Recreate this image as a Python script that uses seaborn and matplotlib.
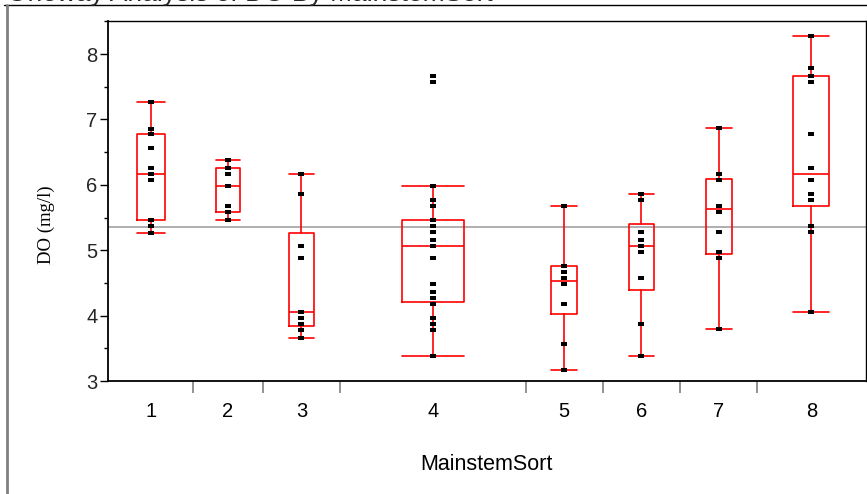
import numpy as np
import pandas as pd
import seaborn as sns
import matplotlib.pyplot as plt
from matplotlib.lines import Line2D

# DO (mg/l) readings per MainstemSort group
groups = ['1', '2', '3', '4', '5', '6', '7', '8']
do_1 = [7.27, 6.86, 6.78, 6.56, 6.25, 6.17, 6.07, 5.46, 5.46, 5.37, 5.27]
do_2 = [6.38, 6.25, 6.25, 6.16, 5.98, 5.67, 5.58, 5.58, 5.46]
do_3 = [6.17, 5.86, 5.07, 4.88, 4.06, 4.06, 3.96, 3.87, 3.78, 3.66]
do_4 = [7.67, 7.57, 5.98, 5.77, 5.68, 5.46, 5.46, 5.37, 5.28, 5.28, 5.16, 5.06,
        5.06, 4.88, 4.48, 4.36, 4.27, 4.27, 4.18, 4.18, 3.96, 3.87, 3.78, 3.38]
do_5 = [5.68, 4.76, 4.76, 4.67, 4.57, 4.48, 4.18, 4.18, 3.57, 3.17]
do_6 = [5.86, 5.77, 5.28, 5.16, 5.06, 5.06, 4.97, 4.57, 3.87, 3.38]
do_7 = [6.87, 6.17, 6.07, 6.07, 5.68, 5.58, 5.28, 4.97, 4.88, 3.79]
do_8 = [8.28, 7.79, 7.67, 7.67, 7.57, 6.78, 6.26, 6.07, 5.86, 5.77, 5.77, 5.37,
        5.28, 4.06]
series = [do_1, do_2, do_3, do_4, do_5, do_6, do_7, do_8]


def jmp_box_stats(vals):
    # JMP quantiles use the (n+1)p position, i.e. numpy's 'weibull' method
    v = np.sort(np.asarray(vals))
    q1, med, q3 = np.percentile(v, [25, 50, 75], method='weibull')
    iqr = q3 - q1
    lo = v[v >= q1 - 1.5 * iqr].min()
    hi = v[v <= q3 + 1.5 * iqr].max()
    return dict(med=med, q1=q1, q3=q3, whislo=lo, whishi=hi, fliers=[])


# x axis proportional to group size, like JMP
counts = np.array([len(s) for s in series])
edges = np.concatenate([[0], np.cumsum(counts)])
centers = (edges[:-1] + edges[1:]) / 2
box_w = counts / 3.0

df = pd.DataFrame({
    'MainstemSort': np.repeat(groups, counts),
    'pos': np.repeat(centers, counts),
    'DO': np.concatenate(series),
})
grand_mean = df['DO'].mean()

sns.set_theme(style='white')
plt.rcParams['font.family'] = ['Liberation Sans', 'DejaVu Sans']

fig = plt.figure(figsize=(8.67, 4.94), dpi=100)
ax = fig.add_axes([108.3 / 867, 1 - 381 / 494, 757.2 / 867, 359.7 / 494])

ax.axhline(grand_mean, color='#a8a8a8', lw=1.3, zorder=1)

red = '#ff0000'
ax.bxp([jmp_box_stats(s) for s in series], positions=centers, widths=box_w,
       capwidths=box_w, showfliers=False, manage_ticks=False,
       boxprops=dict(color=red, lw=1.2), whiskerprops=dict(color=red, lw=1.2),
       capprops=dict(color=red, lw=1.2), medianprops=dict(color=red, lw=1.2),
       zorder=2)

rect = [(-1, -0.6), (1, -0.6), (1, 0.6), (-1, 0.6)]
sns.stripplot(data=df, x='pos', y='DO', native_scale=True, orient='x',
              jitter=False, color='black', marker=rect, size=4.0,
              linewidth=0, zorder=4, ax=ax)

ax.set_xlim(edges[0], edges[-1])
ax.set_ylim(3, 8.5)

ax.set_xticks(centers)
ax.set_xticklabels(groups)
ax.set_xticks(edges[1:-1], minor=True)
ax.tick_params(axis='x', which='major', length=0, pad=15, labelsize=14.5,
               labelcolor='black')
ax.tick_params(axis='x', which='minor', length=8.6, width=1.2,
               color='#808080', direction='out', bottom=True)

ax.set_yticks(range(3, 9))
ax.set_yticks(np.arange(3.5, 8.6, 1.0), minor=True)
ax.tick_params(axis='y', which='major', length=5.8, width=1, pad=2,
               labelsize=14.5, color='black', direction='out', left=True)
ax.tick_params(axis='y', which='minor', length=2.9, width=1, color='black',
               direction='out', left=True)

for side in ['left', 'bottom', 'top', 'right']:
    ax.spines[side].set_visible(True)
    ax.spines[side].set_color('black')
    ax.spines[side].set_linewidth(1.0)
ax.spines['left'].set_linewidth(1.3)
ax.spines['bottom'].set_linewidth(1.3)

ax.set_xlabel('MainstemSort', fontsize=15.5, color='black')
ax.xaxis.set_label_coords(0.5, -0.2335)
ax.xaxis.label.set_va('center')

ax.set_ylabel('DO (mg/l)', fontsize=13.5, color='black',
              family=['Liberation Serif', 'DejaVu Serif'])
ax.yaxis.set_label_coords(-0.0823, 0.434)
ax.yaxis.label.set_va('center')

# outer report frame and the clipped report title
fig.add_artist(Line2D([4 / 867, 1], [1 - 5 / 494] * 2, color='black', lw=1.0))
fig.add_artist(Line2D([7 / 867] * 2, [0, 1 - 5 / 494], color='#808080', lw=2.0))
fig.text(7 / 867, 1 - 0.5 / 494, 'Oneway Analysis of DO By MainstemSort',
         fontsize=19, va='baseline', ha='left')

fig.savefig('out.png', dpi=100)
